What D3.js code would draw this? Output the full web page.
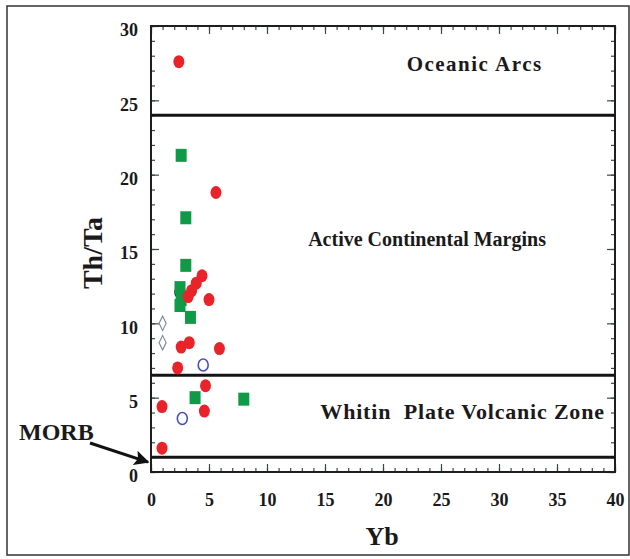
<!DOCTYPE html>
<html>
<head>
<meta charset="utf-8">
<script src="https://cdn.jsdelivr.net/npm/d3@7"></script>
<style>
  html, body { margin: 0; padding: 0; background: #fff; }
  svg { display: block; }
  .serif { font-family: "Liberation Serif", "Times New Roman", serif; font-weight: bold; fill: #1a1a1a; }
</style>
</head>
<body>
<svg id="chart" width="630" height="559"></svg>
<script>
// Yb vs Th/Ta discrimination diagram

// Field boundaries (Th/Ta)
const boundaryValues = [24, 6.5, 1];

// Field names
const fieldNames = ["Oceanic Arcs", "Active Continental Margins", "Whitin  Plate Volcanic Zone"];

// Tick labels
const xTickLabels = [0, 5, 10, 15, 20, 25, 30, 35, 40];
const yTickLabels = [0, 5, 10, 15, 20, 25, 30];

// Samples: red filled circles
const redYb   = [2.4, 5.6, 4.4, 3.9, 3.5, 3.2, 5.0, 2.6, 3.3, 5.9, 2.3, 4.7, 0.95, 4.6, 0.95];
const redThTa = [27.6, 18.8, 13.2, 12.7, 12.2, 11.8, 11.6, 8.4, 8.7, 8.3, 7.0, 5.8, 4.4, 4.1, 1.6];

// Samples: green filled squares
const greenYb   = [2.6, 3.0, 3.0, 2.5, 2.6, 2.5, 3.4, 3.8, 8.0];
const greenThTa = [21.3, 17.1, 13.9, 12.4, 11.6, 11.2, 10.4, 5.0, 4.9];

// Samples: blue open circles
const blueYb   = [2.5, 4.5, 2.7];
const blueThTa = [12.1, 7.2, 3.6];

// Samples: grey open diamonds
const diamondYb   = [1.0, 1.0];
const diamondThTa = [10.0, 8.7];

const svg = d3.select("#chart");

// Outer border of the figure
svg.append("rect")
  .attr("x", 7).attr("y", 6).attr("width", 622).attr("height", 549)
  .attr("fill", "none").attr("stroke", "#333").attr("stroke-width", 1.5);

const x = d3.scaleLinear().domain([0, 40]).range([151, 615]);
const y = d3.scaleLinear().domain([0, 30]).range([472, 26]);

const minorX = d3.range(0, 41);
const minorY = d3.range(0, 31);
const tickColor = "#3b4848";

function styleAxis(g) {
  g.selectAll("path.domain").remove();
  g.selectAll(".tick line").attr("stroke", tickColor).attr("stroke-width", 1.2);
  g.selectAll(".tick text").attr("class", "serif").attr("font-size", 18);
}

// Bottom axis: minor then major ticks pointing inward
svg.append("g").attr("transform", `translate(0,${y(0)})`)
  .call(d3.axisBottom(x).tickValues(minorX).tickSize(-4).tickFormat(""))
  .call(styleAxis);
svg.append("g").attr("transform", `translate(0,${y(0)})`)
  .call(d3.axisBottom(x).tickValues(xTickLabels).tickSizeInner(-8).tickSizeOuter(0).tickPadding(21).tickFormat(d3.format("d")))
  .call(styleAxis);

// Top axis
svg.append("g").attr("transform", `translate(0,${y(30)})`)
  .call(d3.axisTop(x).tickValues(minorX).tickSize(-4).tickFormat(""))
  .call(styleAxis);
svg.append("g").attr("transform", `translate(0,${y(30)})`)
  .call(d3.axisTop(x).tickValues(xTickLabels).tickSize(-8).tickFormat(""))
  .call(styleAxis);

// Left axis
svg.append("g").attr("transform", `translate(${x(0)},0)`)
  .call(d3.axisLeft(y).tickValues(minorY).tickSize(-4).tickFormat(""))
  .call(styleAxis);
svg.append("g").attr("transform", `translate(${x(0)},0)`)
  .call(d3.axisLeft(y).tickValues(yTickLabels).tickSizeInner(-8).tickSizeOuter(0).tickPadding(13).tickFormat(d3.format("d")))
  .call(styleAxis)
  .selectAll(".tick text").attr("dy", "0.55em");

// Right axis
svg.append("g").attr("transform", `translate(${x(40)},0)`)
  .call(d3.axisRight(y).tickValues(minorY).tickSize(-4).tickFormat(""))
  .call(styleAxis);
svg.append("g").attr("transform", `translate(${x(40)},0)`)
  .call(d3.axisRight(y).tickValues(yTickLabels).tickSize(-8).tickFormat(""))
  .call(styleAxis);

// Plot frame
svg.append("rect")
  .attr("x", x(0)).attr("y", y(30))
  .attr("width", x(40) - x(0)).attr("height", y(0) - y(30))
  .attr("fill", "none").attr("stroke", "#1e1e1e").attr("stroke-width", 2);

// Field boundary lines
svg.selectAll("line.boundary").data(boundaryValues).join("line")
  .attr("class", "boundary")
  .attr("x1", x(0)).attr("x2", x(40))
  .attr("y1", d => y(d)).attr("y2", d => y(d))
  .attr("stroke", "#141414").attr("stroke-width", 3);

// Field names
const fieldPos = [
  { anchor: "middle", xv: 27.9, yv: 26.95, size: 21, spacing: 1.5 },
  { anchor: "start",  xv: 13.55, yv: 15.2, size: 20, spacing: 0 },
  { anchor: "start",  xv: 14.6, yv: 3.55, size: 22, spacing: 0.8 }
];
svg.selectAll("text.field").data(fieldNames).join("text")
  .attr("class", "serif field")
  .attr("font-size", (d, i) => fieldPos[i].size)
  .attr("letter-spacing", (d, i) => fieldPos[i].spacing)
  .attr("text-anchor", (d, i) => fieldPos[i].anchor)
  .attr("x", (d, i) => x(fieldPos[i].xv))
  .attr("y", (d, i) => y(fieldPos[i].yv))
  .style("white-space", "pre")
  .text(d => d);

// Axis titles
svg.append("text").attr("class", "serif")
  .attr("font-size", 26).attr("text-anchor", "middle")
  .attr("x", 382).attr("y", 545).text("Yb");
svg.append("text").attr("class", "serif")
  .attr("font-size", 28).attr("text-anchor", "middle")
  .attr("transform", "translate(102,253) rotate(-90)").text("Th/Ta");

// MORB label with arrow pointing at the lowest boundary
svg.append("defs").append("marker")
  .attr("id", "arrowhead").attr("viewBox", "0 0 10 10")
  .attr("refX", 9).attr("refY", 5)
  .attr("markerWidth", 6).attr("markerHeight", 5).attr("markerUnits", "strokeWidth")
  .attr("orient", "auto")
  .append("path").attr("d", "M0,0 L10,5 L0,10 L2,5 Z").attr("fill", "#111");
svg.append("text").attr("class", "serif")
  .attr("font-size", 24).attr("x", 19).attr("y", 440).text("MORB");
svg.append("line")
  .attr("x1", 90).attr("y1", 443).attr("x2", 148).attr("y2", y(1) + 5)
  .attr("stroke", "#111").attr("stroke-width", 3)
  .attr("marker-end", "url(#arrowhead)");

// Grey open diamonds
const diamondSym = d3.symbol().type(d3.symbolDiamond).size(60);
svg.selectAll("path.diamond").data(diamondYb).join("path")
  .attr("class", "diamond")
  .attr("d", diamondSym)
  .attr("transform", (d, i) => `translate(${x(d)},${y(diamondThTa[i])}) scale(0.85,1)`)
  .attr("fill", "none").attr("stroke", "#7d8c99").attr("stroke-width", 1.3);

// Blue open circles
svg.selectAll("ellipse.blue").data(blueYb).join("ellipse")
  .attr("class", "blue")
  .attr("cx", d => x(d)).attr("cy", (d, i) => y(blueThTa[i]))
  .attr("rx", 5).attr("ry", 6)
  .attr("fill", "none").attr("stroke", (d, i) => i === 0 ? "#1d2050" : "#4a4fb8").attr("stroke-width", 1.6);

// Green squares
svg.selectAll("rect.green").data(greenYb).join("rect")
  .attr("class", "green")
  .attr("x", d => x(d) - 5.5).attr("y", (d, i) => y(greenThTa[i]) - 6.5)
  .attr("width", 11).attr("height", 13)
  .attr("fill", "#0f9a48");

// Red circles
svg.selectAll("ellipse.red").data(redYb).join("ellipse")
  .attr("class", "red")
  .attr("cx", d => x(d)).attr("cy", (d, i) => y(redThTa[i]))
  .attr("rx", 5.5).attr("ry", 6.5)
  .attr("fill", "#e8232a");
</script>
</body>
</html>
